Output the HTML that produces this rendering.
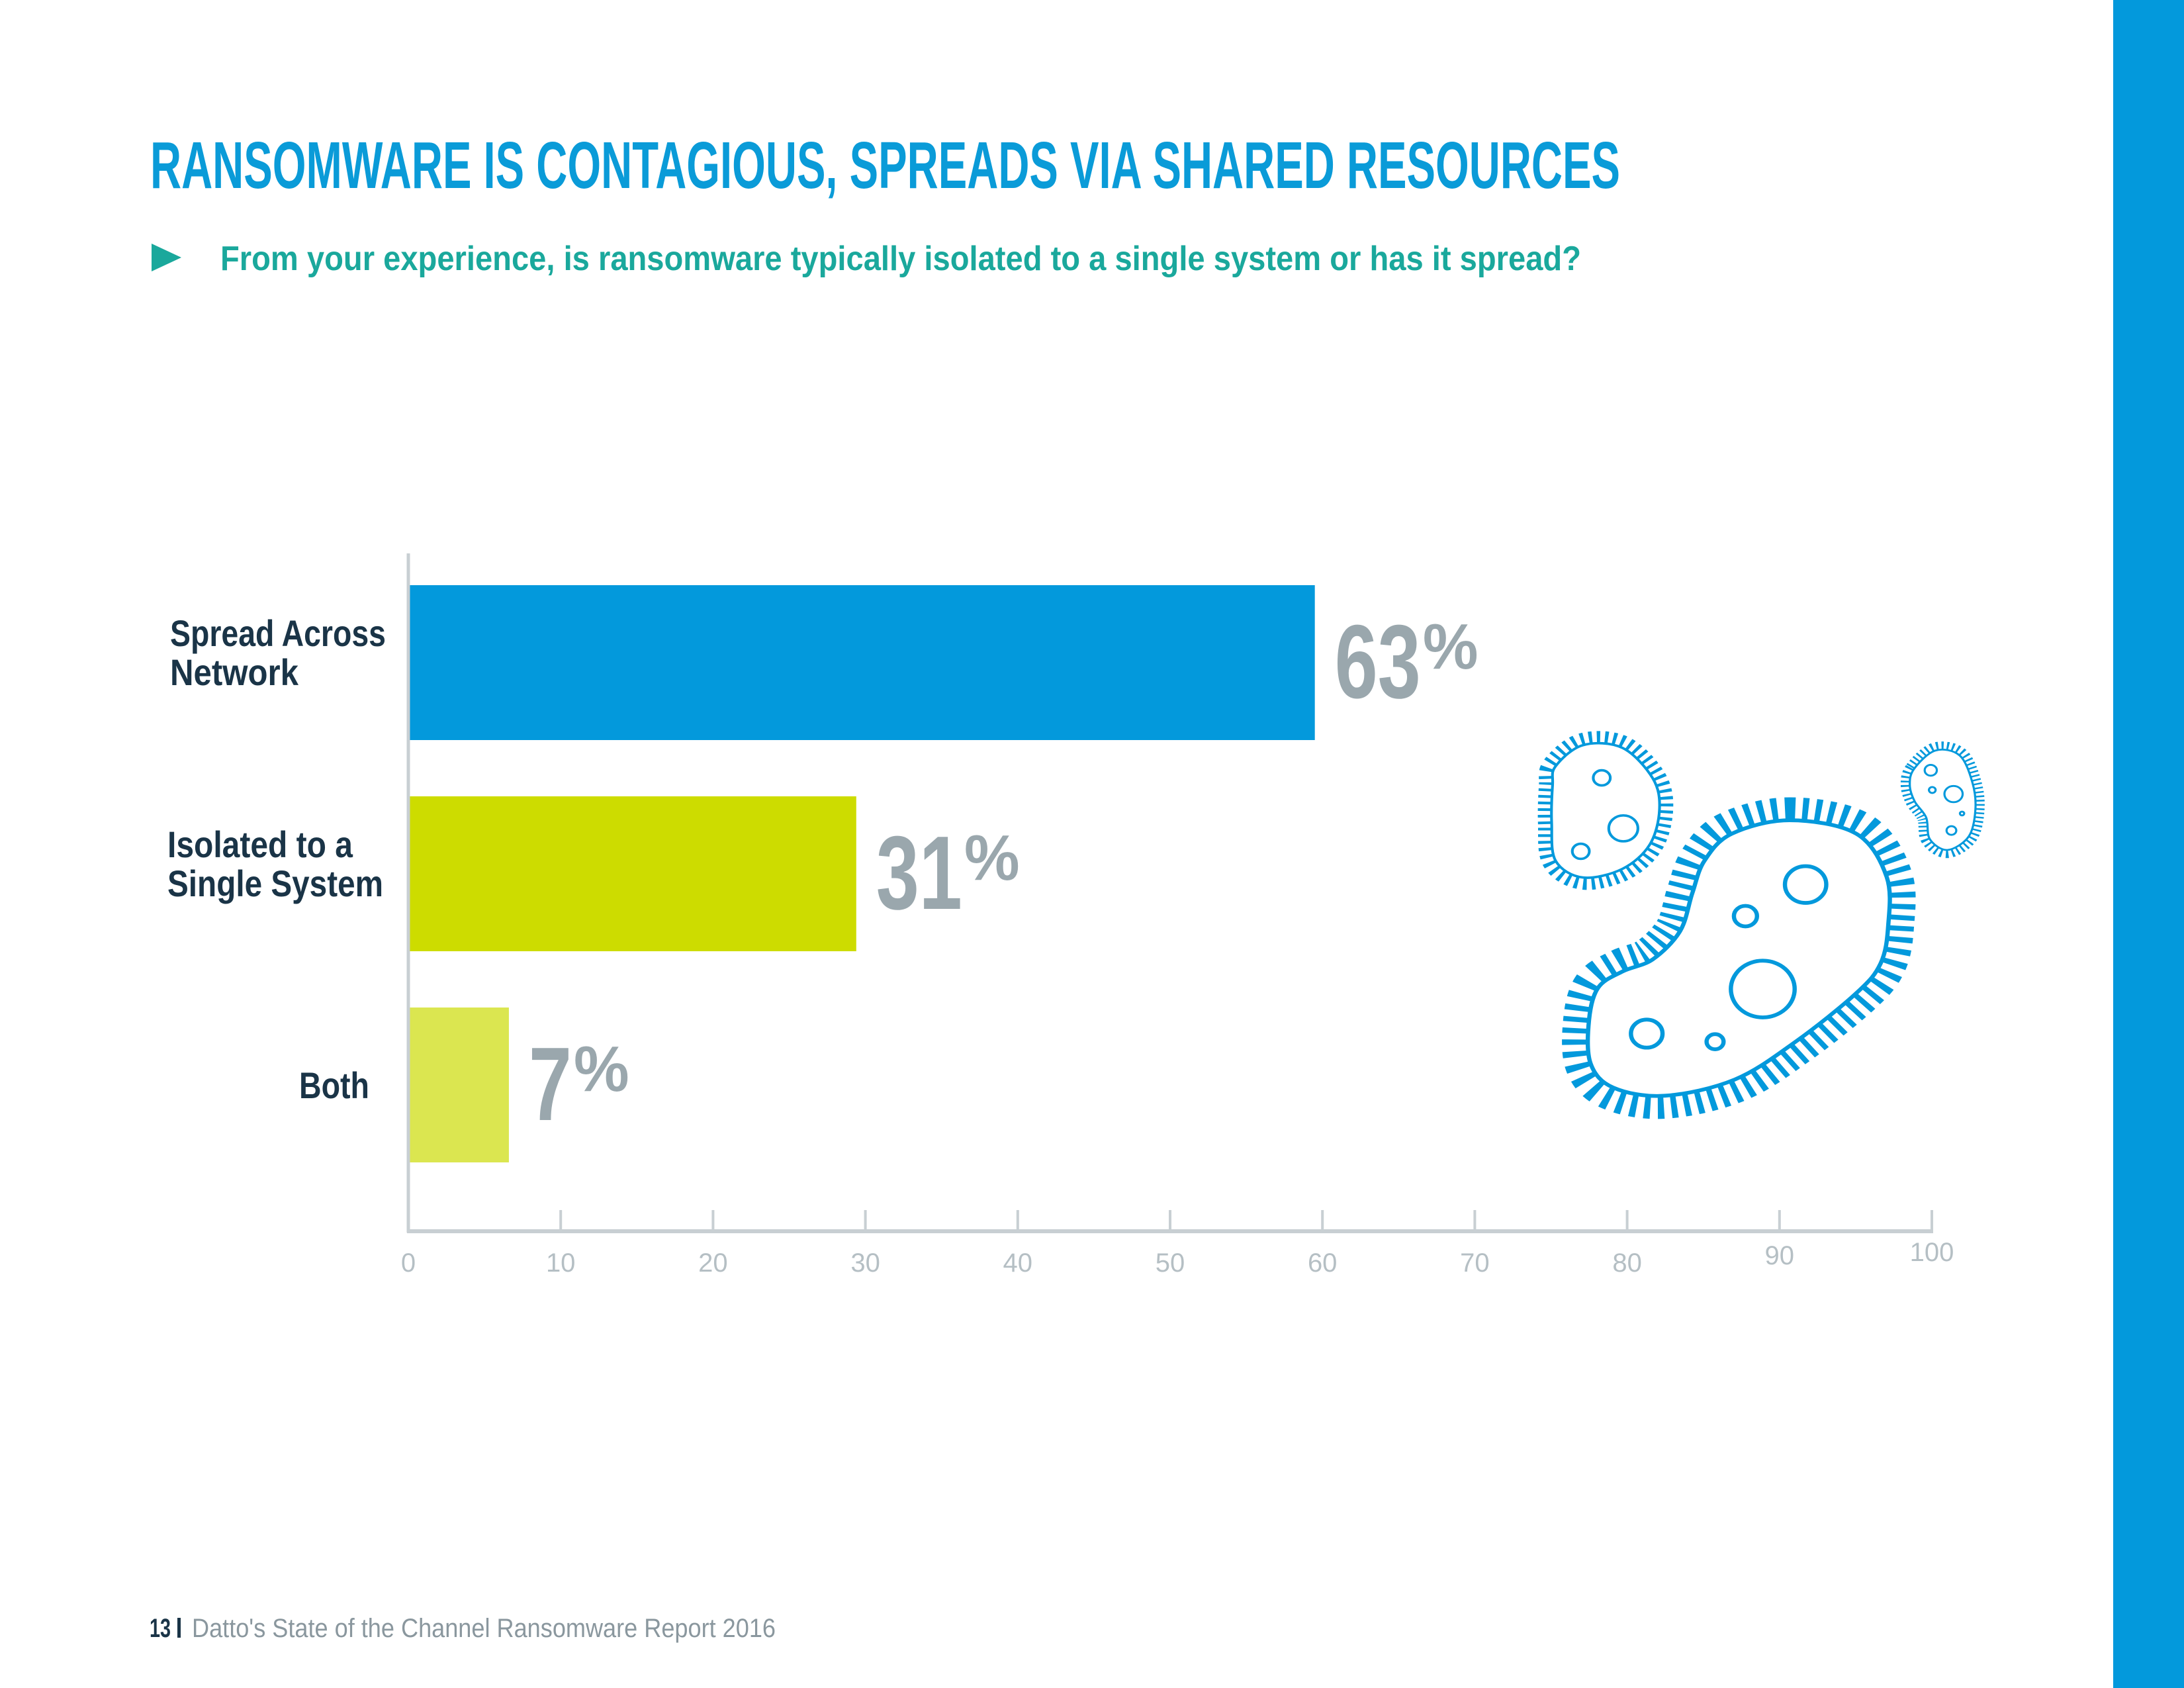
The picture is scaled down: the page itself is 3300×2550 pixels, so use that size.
<!DOCTYPE html>
<html><head><meta charset="utf-8"><style>
html,body{margin:0;padding:0;background:#fff;}
svg{display:block;}
text{font-family:"Liberation Sans",sans-serif;}
</style></head><body>
<svg id="page" width="3300" height="2550" viewBox="0 0 3300 2550" xmlns="http://www.w3.org/2000/svg">
<rect x="3193" y="0" width="107" height="2550" fill="#0399dc"/>
<text x="227" y="284" font-size="100" font-weight="bold" fill="#0a9bd8" textLength="2221" lengthAdjust="spacingAndGlyphs">RANSOMWARE IS CONTAGIOUS, SPREADS VIA SHARED RESOURCES</text>
<polygon points="229,368 274,389 229,410" fill="#1aa89c"/>
<text x="333" y="408" font-size="52" font-weight="bold" fill="#1aa89c" textLength="2056" lengthAdjust="spacingAndGlyphs">From your experience, is ransomware typically isolated to a single system or has it spread?</text>
<g id="chart"></g>
<g id="microbes" transform="translate(2300,1080) scale(0.459,0.408)"></g>
<text x="226" y="2473" font-size="40" font-weight="bold" fill="#1a3447" textLength="32" lengthAdjust="spacingAndGlyphs">13</text>
<rect x="268" y="2444" width="5" height="30" fill="#1a3447"/>
<text x="290" y="2473" font-size="40" fill="#8a979e" textLength="882" lengthAdjust="spacingAndGlyphs">Datto's State of the Channel Ransomware Report 2016</text>
</svg>
<script>
const categories1 = ["Spread Across", "Isolated to a", "Both"];
const categories2 = ["Network", "Single System", ""];
const values = [59.5, 29.4, 6.6];
const valueLabels = ["63", "31", "7"];
const ticks = [0,10,20,30,40,50,60,70,80,90,100];
const colors = ["#0399dc","#cddc00","#dbe650"];

const NS="http://www.w3.org/2000/svg";
const chart=document.getElementById('chart');
const x0=617, x1=2919, axisY=1860;
const xs=v=>x0+(v/100)*(x1-x0);
const bandTop=884, bandStep=319, barH=234;
const ys=i=>bandTop+i*bandStep;
function mk(tag,attrs,parent){const e=document.createElementNS(NS,tag);for(const k in attrs)e.setAttribute(k,attrs[k]);(parent||chart).appendChild(e);return e;}

const lblWidth1=[326,280,106], lblWidth2=[194,326,0];
values.forEach((v,i)=>{
  const r=mk('rect',{x:x0,y:ys(i),width:xs(v)-x0,height:barH,fill:colors[i]});
  
  
  const cy=ys(i)+barH/2;
  const two=categories2[i]!=="";
  const t1=mk('text',{x:558,y:two?cy-25:cy+20,'font-size':56,'font-weight':'bold',fill:'#1a3447','text-anchor':'end',textLength:106,lengthAdjust:'spacingAndGlyphs'});
  t1.textContent=categories1[i];
  
  
  if(two){
    const t2=mk('text',{x:i===0?257:253,y:cy+34,'font-size':56,'font-weight':'bold',fill:'#1a3447',textLength:lblWidth2[i],lengthAdjust:'spacingAndGlyphs'});
    t2.textContent=categories2[i];
    
    
    t1.setAttribute('text-anchor','start');t1.setAttribute('x',i===0?257:253);
    t1.setAttribute('textLength',lblWidth1[i]);
  }
  const vx=xs(v)+30, base=ys(i)+170;
  const g=mk('g',{transform:`translate(${vx},${base}) scale(0.74,1)`});
  
  
  const n=mk('text',{x:0,y:0,'font-size':158,'font-weight':'bold',fill:'#9aa7ad'},g);
  n.textContent=valueLabels[i];
  const w=valueLabels[i].length*88;
  const p=mk('text',{x:w+4,y:-44,'font-size':97,'font-weight':'bold',fill:'#9aa7ad',textLength:113,lengthAdjust:'spacingAndGlyphs'},g);
  p.textContent='%';
});

const ax=mk('line',{x1:x0,y1:836,x2:x0,y2:axisY+2,stroke:'#c8cfd3','stroke-width':5});


const bx=mk('line',{x1:x0-2,y1:axisY,x2:x1+2,y2:axisY,stroke:'#c8cfd3','stroke-width':6});


ticks.forEach((t,i)=>{
  const tk=mk('line',{x1:xs(t),y1:axisY-32,x2:xs(t),y2:axisY,stroke:'#c8cfd3','stroke-width':4});
  
  
  const tl=mk('text',{x:xs(t),y:t===100?1905:(t===90?1910:1921),'font-size':40,fill:'#b5bfc4','text-anchor':'middle'});
  tl.textContent=t;
  
  
});

const mg=document.getElementById('microbes');
function cr(pts){let d=`M${pts[0][0]},${pts[0][1]}`;const n=pts.length;
  for(let i=0;i<n;i++){const p0=pts[(i-1+n)%n],p1=pts[i],p2=pts[(i+1)%n],p3=pts[(i+2)%n];
    d+=` C${p1[0]+(p2[0]-p0[0])/6},${p1[1]+(p2[1]-p0[1])/6} ${p2[0]-(p3[0]-p1[0])/6},${p2[1]-(p3[1]-p1[1])/6} ${p2[0]},${p2[1]}`;}
  return d+'Z';}
function microbe(name,pts,hair,dash,line,circles){
  const g=mk('g',{},mg);
  
  
  const d=cr(pts);
  mk('path',{d:d,fill:'none',stroke:'#0399dc','stroke-width':hair,'stroke-dasharray':dash},g);
  mk('path',{d:d,fill:'#fff',stroke:'#0399dc','stroke-width':line},g);
  circles.forEach(c=>mk('circle',{cx:c[0],cy:c[1],r:c[2],fill:'none',stroke:'#0399dc','stroke-width':line},g));
}
microbe('microbe-large',[[880,390],[1100,440],[1200,600],[1205,780],[1180,920],[1100,1030],[900,1210],[700,1350],[470,1410],[300,1380],[225,1290],[220,1130],[250,1010],[330,950],[430,905],[520,800],[560,660],[600,540],[690,440]],170,'18 22',14,[[933,628,68],[735,745,38],[792,1015,105],[410,1180,52],[635,1210,28]]);
microbe('microbe-left',[[110,190],[200,112],[330,122],[430,235],[452,350],[420,480],[330,570],[200,602],[110,540],[97,400],[100,260]],90,'10 14',9,[[262,233,28],[333,420,48],[193,505,28]]);
microbe('microbe-right',[[1290,200],[1360,132],[1440,150],[1482,250],[1492,350],[1470,450],[1400,500],[1342,460],[1330,380],[1292,320],[1276,260]],60,'6 9',7,[[1345,205,20],[1350,278,11],[1420,293,30],[1448,365,7],[1413,428,16]]);
</script>
</body></html>
